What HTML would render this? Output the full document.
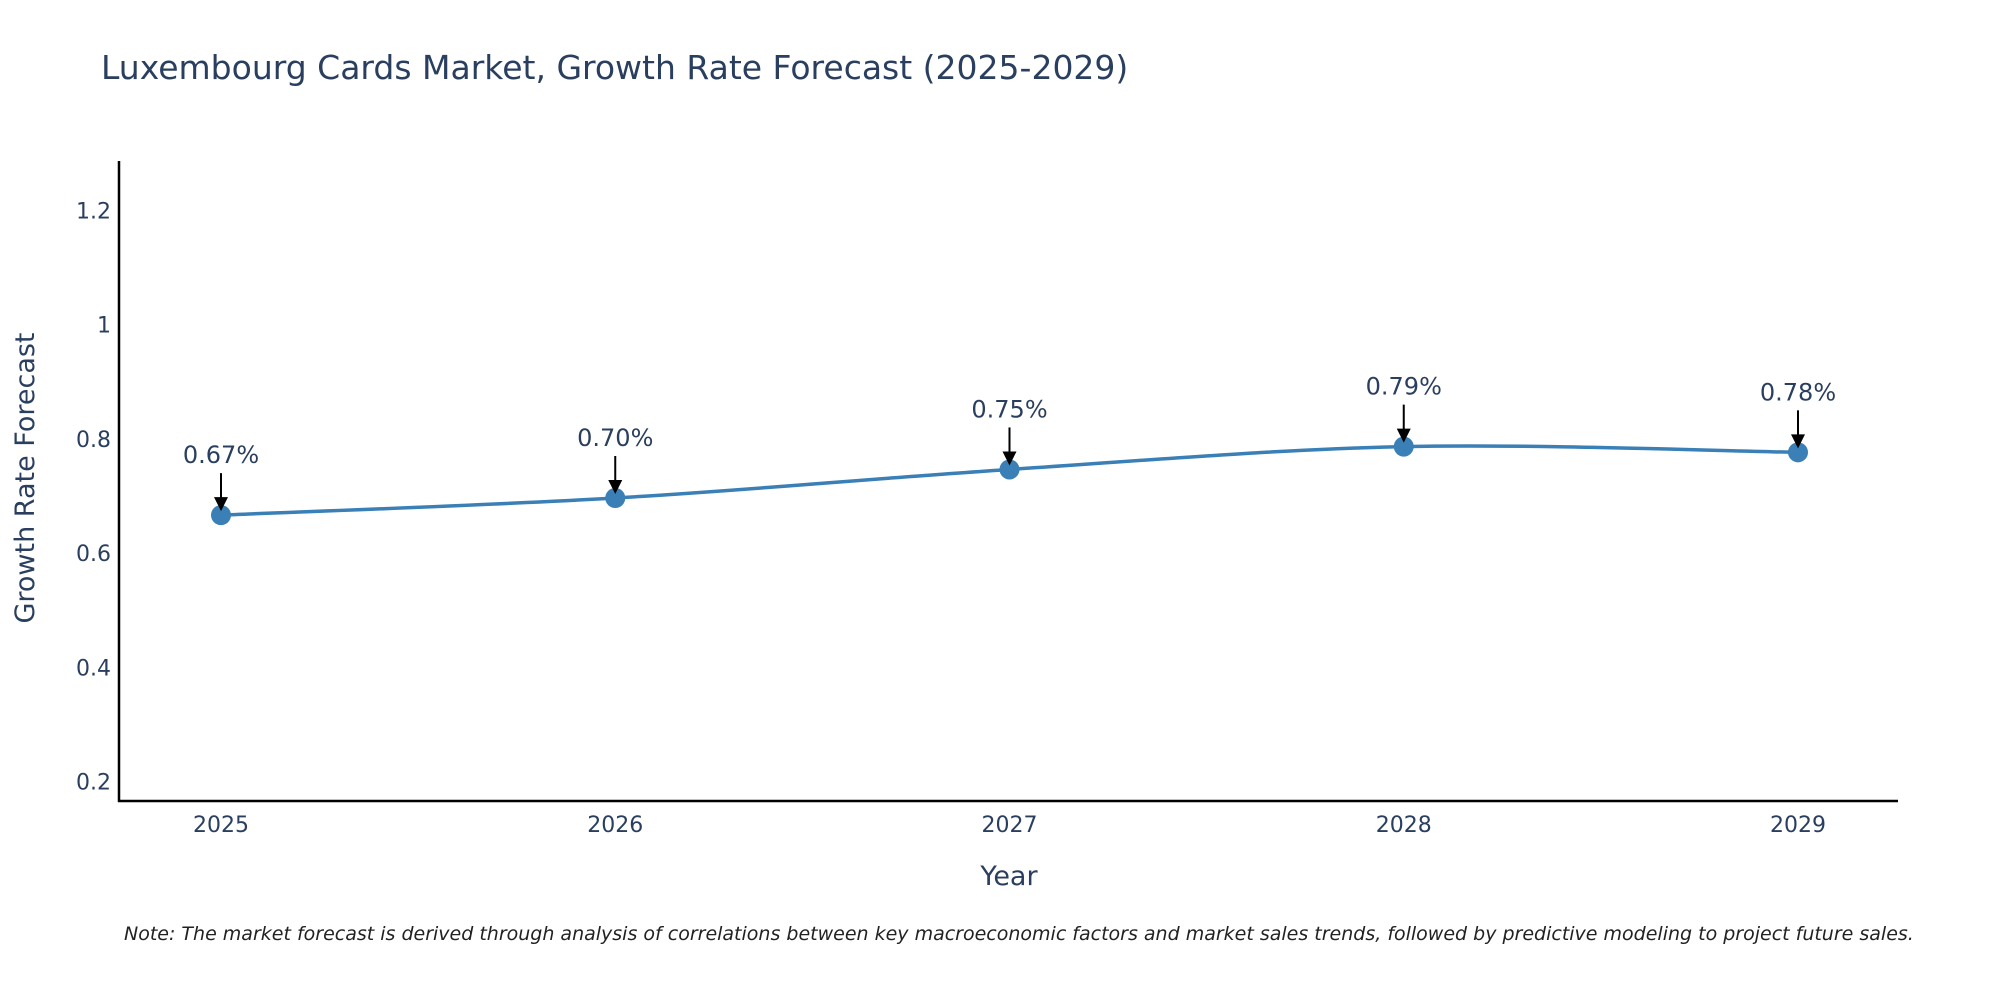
<!DOCTYPE html>
<html><head><meta charset="utf-8"><style>
body{margin:0;background:#fff}
svg text{font-family:"DejaVu Sans","Liberation Sans",sans-serif;fill:#2a3f5f}
</style></head><body>
<svg id="chart" width="2000" height="1000" viewBox="0 0 2000 1000">
<text x="101" y="79" font-size="33">Luxembourg Cards Market, Growth Rate Forecast (2025-2029)</text>
<g id="yticks"></g>
<g id="xticks"></g>
<line x1="119" y1="161" x2="119" y2="802" stroke="#000" stroke-width="2.5"/>
<line x1="118" y1="801" x2="1898" y2="801" stroke="#000" stroke-width="2.5"/>
<path id="series" fill="none" stroke="#3a7fb5" stroke-width="3.5"/>
<g id="marks"></g>
<g id="annots"></g>
<text x="1009" y="885" font-size="27" text-anchor="middle">Year</text>
<text transform="translate(34,478) rotate(-90)" font-size="27" text-anchor="middle">Growth Rate Forecast</text>
<text x="124" y="940" font-size="19" font-style="italic" style="fill:#222">Note: The market forecast is derived through analysis of correlations between key macroeconomic factors and market sales trends, followed by predictive modeling to project future sales.</text>
</svg>
<script>
const years = [2025, 2026, 2027, 2028, 2029];
const values = [0.67, 0.70, 0.75, 0.79, 0.78];
const labels = ["0.67%", "0.70%", "0.75%", "0.79%", "0.78%"];
const yTicks = [0.2, 0.4, 0.6, 0.8, 1, 1.2];
const yTickLabels = ["0.2", "0.4", "0.6", "0.8", "1", "1.2"];

const NS = "http://www.w3.org/2000/svg";
function xs(yr){ return 221 + (yr - 2025) * 394.25; }
function ys(v){ return 783.5 - (v - 0.2) * 571; }
function mk(tag, attrs, parent, txt){
  const e = document.createElementNS(NS, tag);
  for (const k in attrs) e.setAttribute(k, attrs[k]);
  if (txt !== undefined) e.textContent = txt;
  parent.appendChild(e); return e;
}
const yg = document.getElementById('yticks');
yTicks.forEach((t, i) => {
  const e = mk('text', {x: 111, y: ys(t) + 6, 'font-size': 22, 'text-anchor': 'end'}, yg, yTickLabels[i]);
  
  
});
const xg = document.getElementById('xticks');
years.forEach(yr => {
  const e = mk('text', {x: xs(yr), y: 832, 'font-size': 22, 'text-anchor': 'middle'}, xg, String(yr));
  
  
});
const pts = years.map((yr, i) => [xs(yr), ys(values[i])]);
let d = `M${pts[0][0]},${pts[0][1]}`;
const t = 0.5 / 3 * 2;
for (let i = 0; i < pts.length - 1; i++){
  const p0 = pts[Math.max(i-1,0)], p1 = pts[i], p2 = pts[i+1], p3 = pts[Math.min(i+2,pts.length-1)];
  const c1 = [p1[0] + (p2[0]-p0[0])*t/2, p1[1] + (p2[1]-p0[1])*t/2];
  const c2 = [p2[0] - (p3[0]-p1[0])*t/2, p2[1] - (p3[1]-p1[1])*t/2];
  d += ` C${c1[0]},${c1[1]} ${c2[0]},${c2[1]} ${p2[0]},${p2[1]}`;
}
document.getElementById('series').setAttribute('d', d);
const mg = document.getElementById('marks');
const ag = document.getElementById('annots');
pts.forEach((p, i) => {
  const c = mk('circle', {cx: p[0], cy: p[1], r: 10, fill: '#3a7fb5'}, mg);
  
  
  const l = mk('line', {x1: p[0], y1: p[1] - 42, x2: p[0], y2: p[1] - 14, stroke: '#000', 'stroke-width': 2}, ag);
  
  
  const h = mk('polygon', {points: `${p[0]-7},${p[1]-18} ${p[0]+7},${p[1]-18} ${p[0]},${p[1]-4}`, fill: '#000'}, ag);
  
  
  const tx = mk('text', {x: p[0], y: p[1] - 52, 'font-size': 24, 'text-anchor': 'middle'}, ag, labels[i]);
  
  
});
</script>
</body></html>
